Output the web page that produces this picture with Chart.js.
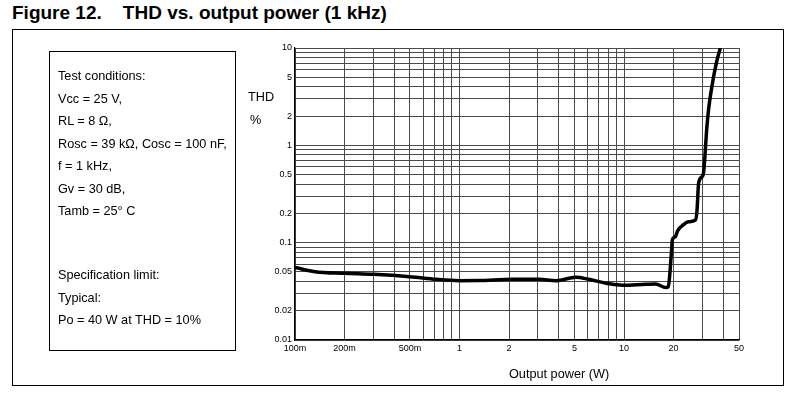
<!DOCTYPE html>
<html>
<head>
<meta charset="utf-8">
<script src="https://cdn.jsdelivr.net/npm/chart.js@4/dist/chart.umd.min.js"></script>
<style>
  body { margin: 0; background: #fff; font-family: 'Liberation Sans', Arial, sans-serif; color: #000; }
  #wrap { position: relative; width: 795px; height: 397px; overflow: hidden; }
  #chart { position: absolute; left: 0; top: 0; }
  .abs { position: absolute; white-space: nowrap; }
  #title { left: 12px; top: 2px; font-size: 19px; font-weight: bold; }
  #frame { left: 12px; top: 29px; width: 770px; height: 355px; border: 1px solid #000; }
  #box { left: 49px; top: 51px; width: 185px; height: 298px; border: 1px solid #000; }
  .blk { position: absolute; left: 8px; font-size: 12.7px; line-height: 22.5px; }
  .lbl { font-size: 12.7px; }
</style>
</head>
<body>
<div id="wrap">
  <div class="abs" id="title">Figure 12.&nbsp;&nbsp;&nbsp; THD vs. output power (1 kHz)</div>
  <div class="abs" id="frame"></div>
  <canvas id="chart" width="795" height="397"></canvas>
  <div class="abs" id="box">
    <div class="blk" style="top:13px">Test conditions:<br>Vcc = 25 V,<br>RL = 8 &Omega;,<br>Rosc = 39 k&Omega;, Cosc = 100 nF,<br>f = 1 kHz,<br>Gv = 30 dB,<br>Tamb = 25&deg; C</div>
    <div class="blk" style="top:212px">Specification limit:<br>Typical:<br>Po = 40 W at THD = 10%</div>
  </div>
  <div class="abs lbl" style="left:248px; top:90px;">THD</div>
  <div class="abs lbl" style="left:250px; top:113px;">%</div>
  <div class="abs lbl" style="left:509px; top:367px;">Output power (W)</div>
</div>
<script>
// output power (W) and THD (%)
var powerW = [0.1, 0.132, 0.2, 0.3, 0.5, 0.72, 1.0, 1.3, 2.1, 3.05, 3.86, 5.1, 6.1, 7.8, 9.8, 13.5, 15.6, 17.9, 18.6,
  19.0, 19.4, 19.7, 20.5, 21.2, 22.9, 24.6, 27.2, 27.8, 28.4, 29.8, 30.5, 31.9, 32.6, 34.2, 36.4, 38.5];
var thdPct = [0.0555, 0.0503, 0.0484, 0.0473, 0.0447, 0.042, 0.0407, 0.0408, 0.042, 0.042, 0.0407, 0.0441, 0.042, 0.0383, 0.0365, 0.0373, 0.0376, 0.0347, 0.0352,
  0.0484, 0.0777, 0.108, 0.115, 0.133, 0.152, 0.164, 0.171, 0.217, 0.408, 0.476, 0.535, 1.55, 2.28, 4.0, 7.0, 10];

var xTickValues = [0.1, 0.2, 0.5, 1, 2, 5, 10, 20, 50];
var xTickLabels = ['100m', '200m', '500m', '1', '2', '5', '10', '20', '50'];
var yTickValues = [0.01, 0.02, 0.05, 0.1, 0.2, 0.5, 1, 2, 5, 10];
var yTickLabels = ['0.01', '0.02', '0.05', '0.1', '0.2', '0.5', '1', '2', '5', '10'];

function gridValues(lo, hi) {
  var out = [];
  for (var d = lo; d < hi * 1.0001; d *= 10) {
    for (var m = 1; m <= 9; m++) {
      var v = +(d * m).toPrecision(3);
      if (v <= hi * 1.0001) out.push(v);
    }
  }
  return out;
}

function labelFor(values, labels) {
  return function (value) {
    for (var i = 0; i < values.length; i++) {
      if (Math.abs(values[i] - value) / values[i] < 1e-6) return labels[i];
    }
    return '';
  };
}

var tickFont = { family: "'Liberation Sans', Arial, sans-serif", size: 9 };

new Chart(document.getElementById('chart'), {
  type: 'line',
  data: {
    datasets: [{
      data: powerW.map(function (p, i) { return { x: p, y: thdPct[i] }; }),
      borderColor: '#000',
      borderWidth: 3.5,
      pointRadius: 0,
      fill: false,
      cubicInterpolationMode: 'monotone'
    }]
  },
  options: {
    responsive: false,
    animation: false,
    layout: { padding: { left: 275, right: 56, top: 48, bottom: 37 } },
    plugins: { legend: { display: false }, tooltip: { enabled: false } },
    scales: {
      x: {
        type: 'logarithmic',
        min: 0.1,
        max: 50,
        afterBuildTicks: function (s) { s.ticks = gridValues(0.1, 50).map(function (v) { return { value: v }; }); },
        afterFit: function (s) { s.height = 20; },
        ticks: { autoSkip: false, maxRotation: 0, padding: 3, color: '#000', font: tickFont,
          callback: labelFor(xTickValues, xTickLabels) },
        grid: { color: '#4a4a4a', lineWidth: 1, drawTicks: false },
        border: { display: true, color: '#000', width: 1.2 }
      },
      y: {
        type: 'logarithmic',
        min: 0.01,
        max: 10,
        afterBuildTicks: function (s) { s.ticks = gridValues(0.01, 10).map(function (v) { return { value: v }; }); },
        afterFit: function (s) { s.width = 20; },
        ticks: { autoSkip: false, padding: 3, color: '#000', font: tickFont,
          callback: labelFor(yTickValues, yTickLabels) },
        grid: { color: '#4a4a4a', lineWidth: 1, drawTicks: false },
        border: { display: true, color: '#000', width: 1.2 }
      }
    }
  }
});
</script>
</body>
</html>
